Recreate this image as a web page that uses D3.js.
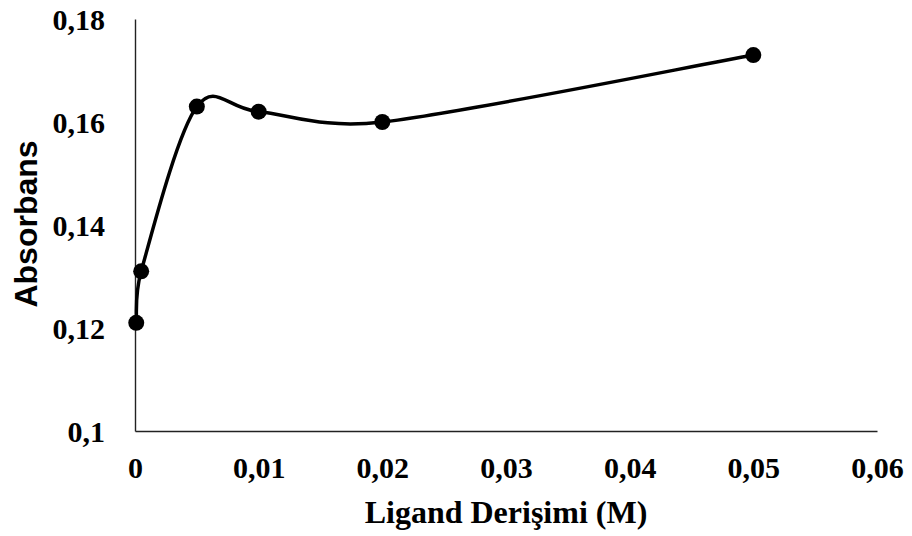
<!DOCTYPE html>
<html>
<head>
<meta charset="utf-8">
<script src="https://cdn.jsdelivr.net/npm/d3@7"></script>
<style>
  html, body { margin: 0; padding: 0; background: #fff; }
  svg { display: block; }
</style>
</head>
<body>
<div id="chart"></div>
<script>
// ligand concentration (M) and absorbance readings
var concentrations = [0.0001, 0.0005, 0.005, 0.01, 0.02, 0.05];
var absorbances    = [0.121, 0.131, 0.163, 0.162, 0.160, 0.173];

var xTicks = [0, 0.01, 0.02, 0.03, 0.04, 0.05, 0.06];
var yTicks = [0.1, 0.12, 0.14, 0.16, 0.18];

var xTitle = 'Ligand Derişimi (M)';
var yTitle = 'Absorbans';

var width = 912, height = 536;
var margin = { top: 19, right: 35, bottom: 105, left: 135 };

// comma decimals, like the original sheet
var fmt = function (v) { return String(+v.toFixed(4)).replace('.', ','); };

var svg = d3.select('#chart').append('svg')
	.attr('width', width)
	.attr('height', height);

var x = d3.scaleLinear()
	.domain([0, 0.06])
	.range([margin.left, width - margin.right]);

var y = d3.scaleLinear()
	.domain([0.1, 0.18])
	.range([height - margin.bottom, margin.top]);

var tickFont = '"Liberation Serif", "Times New Roman", serif';

// axes
var xAxis = svg.append('g')
	.attr('transform', 'translate(0,' + y(0.1) + ')')
	.call(d3.axisBottom(x).tickValues(xTicks).tickSize(0).tickFormat(fmt));
xAxis.selectAll('text').attr('y', 47).attr('dy', null);

var yAxis = svg.append('g')
	.attr('transform', 'translate(' + x(0) + ',0)')
	.call(d3.axisLeft(y).tickValues(yTicks).tickSize(0).tickFormat(fmt));
yAxis.selectAll('text').attr('x', -30).attr('dy', 10);

[xAxis, yAxis].forEach(function (g) {
	g.select('.domain').attr('stroke', '#222').attr('stroke-width', 1.4);
	g.selectAll('text')
		.attr('fill', '#000')
		.style('font-family', tickFont)
		.style('font-weight', 'bold')
		.style('font-size', '30px');
});

// spreadsheet-style smoothing: cardinal tangents, clamped to half the segment
var smoothPath = function (p) {
	var path = d3.path();
	var tangent = function (i) {
		var a = p[Math.max(i - 1, 0)], b = p[Math.min(i + 1, p.length - 1)];
		return [(b[0] - a[0]) / 6, (b[1] - a[1]) / 6];
	};
	var clamp = function (t, len) {
		var l = Math.hypot(t[0], t[1]), lim = len / 2;
		return l > lim ? [t[0] * lim / l, t[1] * lim / l] : t;
	};
	path.moveTo(p[0][0], p[0][1]);
	for (var i = 0; i < p.length - 1; i++) {
		var len = Math.hypot(p[i + 1][0] - p[i][0], p[i + 1][1] - p[i][1]);
		var t1 = clamp(tangent(i), len), t2 = clamp(tangent(i + 1), len);
		path.bezierCurveTo(
			p[i][0] + t1[0], p[i][1] + t1[1],
			p[i + 1][0] - t2[0], p[i + 1][1] - t2[1],
			p[i + 1][0], p[i + 1][1]);
	}
	return path.toString();
};

var pts = concentrations.map(function (c, i) { return [c, absorbances[i]]; });
var px = pts.map(function (d) { return [x(d[0]), y(d[1])]; });

svg.append('path')
	.attr('d', smoothPath(px))
	.attr('fill', 'none')
	.attr('stroke', '#000')
	.attr('stroke-width', 3.5);

svg.selectAll('circle.pt')
	.data(pts)
	.enter()
	.append('circle')
	.attr('class', 'pt')
	.attr('cx', function (d) { return x(d[0]); })
	.attr('cy', function (d) { return y(d[1]); })
	.attr('r', 8)
	.attr('fill', '#000');

// titles
svg.append('text')
	.attr('x', (x(0) + x(0.06)) / 2)
	.attr('y', 523)
	.attr('text-anchor', 'middle')
	.style('font-family', tickFont)
	.style('font-weight', 'bold')
	.style('font-size', '32px')
	.text(xTitle);

svg.append('text')
	.attr('transform', 'translate(37,' + 224 + ') rotate(-90)')
	.attr('text-anchor', 'middle')
	.style('font-family', '"Liberation Sans", Arial, sans-serif')
	.style('font-weight', 'bold')
	.style('font-size', '32px')
	.text(yTitle);
</script>
</body>
</html>
